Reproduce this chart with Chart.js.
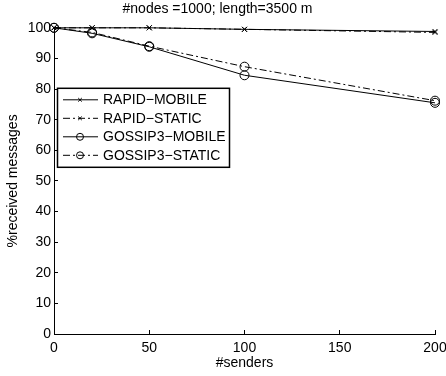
<!DOCTYPE html>
<html>
<head>
<meta charset="utf-8">
<script src="https://cdn.jsdelivr.net/npm/chart.js@4/dist/chart.umd.min.js"></script>
<style>
  html, body { margin: 0; padding: 0; background: #fff; }
  #wrap { width: 446px; height: 376px; }
</style>
</head>
<body>
<div id="wrap"><canvas id="chart" width="446" height="376"></canvas></div>
<script>
const senders = [0, 20, 50, 100, 200];
const rapidMobile = [100, 100, 100, 99.5, 98.8];
const rapidStatic = [100, 100, 100, 99.5, 98.5];
const gossipMobile = [100, 98.2, 93.8, 84.5, 75.5];
const gossipStatic = [100, 98.5, 94, 87.3, 76.2];
const xTicks = [0, 50, 100, 150, 200];
const yTicks = [0, 10, 20, 30, 40, 50, 60, 70, 80, 90, 100];

const FONT = "'Liberation Sans', Arial, sans-serif";

function toPoints(values) {
  return senders.map((x, i) => ({ x: x, y: values[i] }));
}

function makeSet(label, values, marker, dash) {
  return {
    label,
    data: toPoints(values),
    borderColor: "#000",
    backgroundColor: "rgba(0,0,0,0)",
    borderWidth: 1,
    borderDash: dash,
    pointStyle: marker,
    pointRadius: marker === "circle" ? 4.5 : 3.5,
    pointBorderColor: "#000",
    pointBorderWidth: 1,
    pointBackgroundColor: "rgba(0,0,0,0)",
    tension: 0,
    clip: false,
  };
}

// legend box drawn inside the plot, with line + marker samples
const boxLegend = {
  id: "boxLegend",
  afterDatasetsDraw(chart) {
    const ctx = chart.ctx;
    const area = chart.chartArea;
    const left = area.left + 3;
    const top = area.top + 60;
    const w = 172;
    const h = 79;
    ctx.save();
    ctx.fillStyle = "#fff";
    ctx.fillRect(left, top, w, h);
    ctx.strokeStyle = "#000";
    ctx.lineWidth = 1.5;
    ctx.strokeRect(left + 0.5, top + 0.5, w, h);
    chart.data.datasets.forEach((ds, i) => {
      const y = top + 12 + i * 18.5;
      ctx.strokeStyle = "#000";
      ctx.lineWidth = 1;
      ctx.setLineDash(ds.borderDash || []);
      ctx.beginPath();
      ctx.moveTo(left + 6, y);
      ctx.lineTo(left + 41, y);
      ctx.stroke();
      ctx.setLineDash([]);
      ctx.fillStyle = "rgba(0,0,0,0)";
      Chart.helpers.drawPoint(ctx, {
        pointStyle: ds.pointStyle,
        radius: ds.pointStyle === "circle" ? 3.5 : 2.5,
        borderWidth: 1,
      }, left + 23, y);
      ctx.fillStyle = "#000";
      ctx.font = "14px " + FONT;
      ctx.textBaseline = "middle";
      ctx.fillText(ds.label, left + 46, y + 0.5);
    });
    ctx.restore();
  },
};

new Chart(document.getElementById("chart"), {
  type: "line",
  data: {
    datasets: [
      makeSet("RAPID\u2212MOBILE", rapidMobile, "crossRot", []),
      makeSet("RAPID\u2212STATIC", rapidStatic, "crossRot", [7, 3, 2, 3]),
      makeSet("GOSSIP3\u2212MOBILE", gossipMobile, "circle", []),
      makeSet("GOSSIP3\u2212STATIC", gossipStatic, "circle", [7, 3, 2, 3]),
    ],
  },
  options: {
    responsive: false,
    animation: false,
    layout: { padding: { left: 0, right: 11, top: 0, bottom: 0 } },
    plugins: {
      legend: { display: false },
      tooltip: { enabled: false },
      title: {
        display: true,
        text: "#nodes =1000; length=3500 m",
        color: "#000",
        font: { family: FONT, size: 14, weight: "normal" },
        padding: { top: 1, bottom: 10 },
      },
    },
    scales: {
      x: {
        type: "linear",
        min: 0,
        max: 200,
        afterBuildTicks: (scale) => { scale.ticks = xTicks.map((v) => ({ value: v })); },
        afterFit: (scale) => {
          scale.height = 42;
          scale.paddingRight = 0;
          scale.paddingLeft = 0;
        },
        ticks: { color: "#000", font: { family: FONT, size: 14 }, padding: 10, maxRotation: 0 },
        grid: { drawOnChartArea: false, tickLength: -4, color: "#000" },
        border: { color: "#000", width: 1 },
        title: {
          display: true,
          text: "#senders",
          color: "#000",
          font: { family: FONT, size: 14 },
          padding: { top: 0, bottom: 4 },
        },
      },
      y: {
        min: 0,
        max: 100,
        afterBuildTicks: (scale) => { scale.ticks = yTicks.map((v) => ({ value: v })); },
        afterFit: (scale) => { scale.width = 54; },
        ticks: { color: "#000", font: { family: FONT, size: 14 }, padding: 7 },
        grid: { drawOnChartArea: false, tickLength: -4, color: "#000" },
        border: { color: "#000", width: 1 },
        title: {
          display: true,
          text: "%received messages",
          color: "#000",
          font: { family: FONT, size: 14 },
          padding: { top: 5, bottom: 0 },
        },
      },
    },
  },
  plugins: [boxLegend],
});
</script>
</body>
</html>
